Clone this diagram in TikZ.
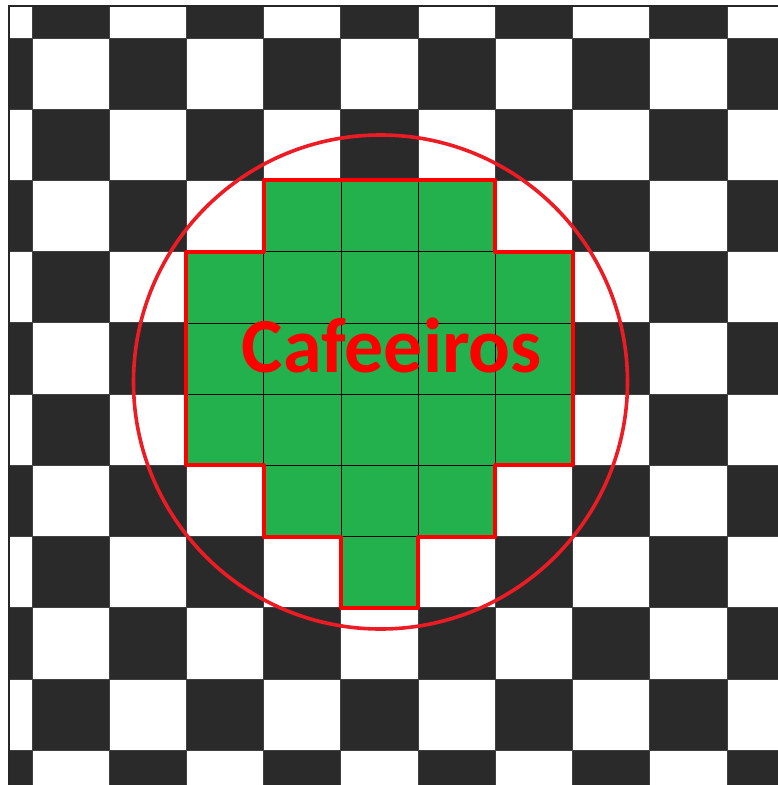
\documentclass[tikz,border=0pt]{standalone}
\usepackage{fontspec}
\setmainfont{Carlito}
\definecolor{darkcell}{HTML}{2A2A2A}
\definecolor{cellgreen}{HTML}{22B14C}
\definecolor{circred}{HTML}{ED1C24}
\tikzset{
  gridline/.style={black!75, line width=0.9pt},
  greenline/.style={black, line width=0.7pt},
  outline/.style={red, line width=4pt, line join=round},
  ringline/.style={circred, line width=3.6pt},
  label/.style={text=red, font=\fontsize{78}{78}\selectfont\bfseries, anchor=base, inner sep=0pt}
}
\begin{document}
\begin{tikzpicture}[x=1pt,y=-1pt]
\useasboundingbox[fill=white] (0,0) rectangle (778,785);
\begin{scope}
\clip (9,6) rectangle (778,785);
\begin{scope}[x=77.22pt,y=-71.23pt,shift={(-45.22pt,33.23pt)}]
  \foreach \k in {0,...,10} {
    \foreach \m in {0,...,11} {
      \pgfmathparse{int(mod(\k+\m,2))}
      \ifnum\pgfmathresult=1 \fill[darkcell] (\k,\m) rectangle ++(1,1); \fi
    }
  }
  \foreach \k in {0,...,11} { \draw[gridline] (\k,0) -- (\k,12); }
  \foreach \m in {0,...,12} { \draw[gridline] (0,\m) -- (11,\m); }
  \fill[cellgreen] (4,3) -| (7,4) -| (8,7) -| (7,8) -| (6,9) -| (5,8) -| (4,7) -| (3,4) -| (4,3) -- cycle;
  \begin{scope}
    \clip (4,3) -| (7,4) -| (8,7) -| (7,8) -| (6,9) -| (5,8) -| (4,7) -| (3,4) -| (4,3) -- cycle;
    \foreach \k in {3,...,8} { \draw[greenline] (\k,3) -- (\k,9); }
    \foreach \m in {3,...,9} { \draw[greenline] (3,\m) -- (8,\m); }
  \end{scope}
  \draw[outline] (4,3) -| (7,4) -| (8,7) -| (7,8) -| (6,9) -| (5,8) -| (4,7) -| (3,4) -| (4,3) -- cycle;
\end{scope}
\end{scope}
\draw[black!85, line width=1.6pt] (9,785) -- (9,6) -- (778,6);
\draw[ringline] (380.5,382) circle[radius=247];
\node[label] (t) at (392,372) {Cafeeiros};
\end{tikzpicture}
\end{document}
